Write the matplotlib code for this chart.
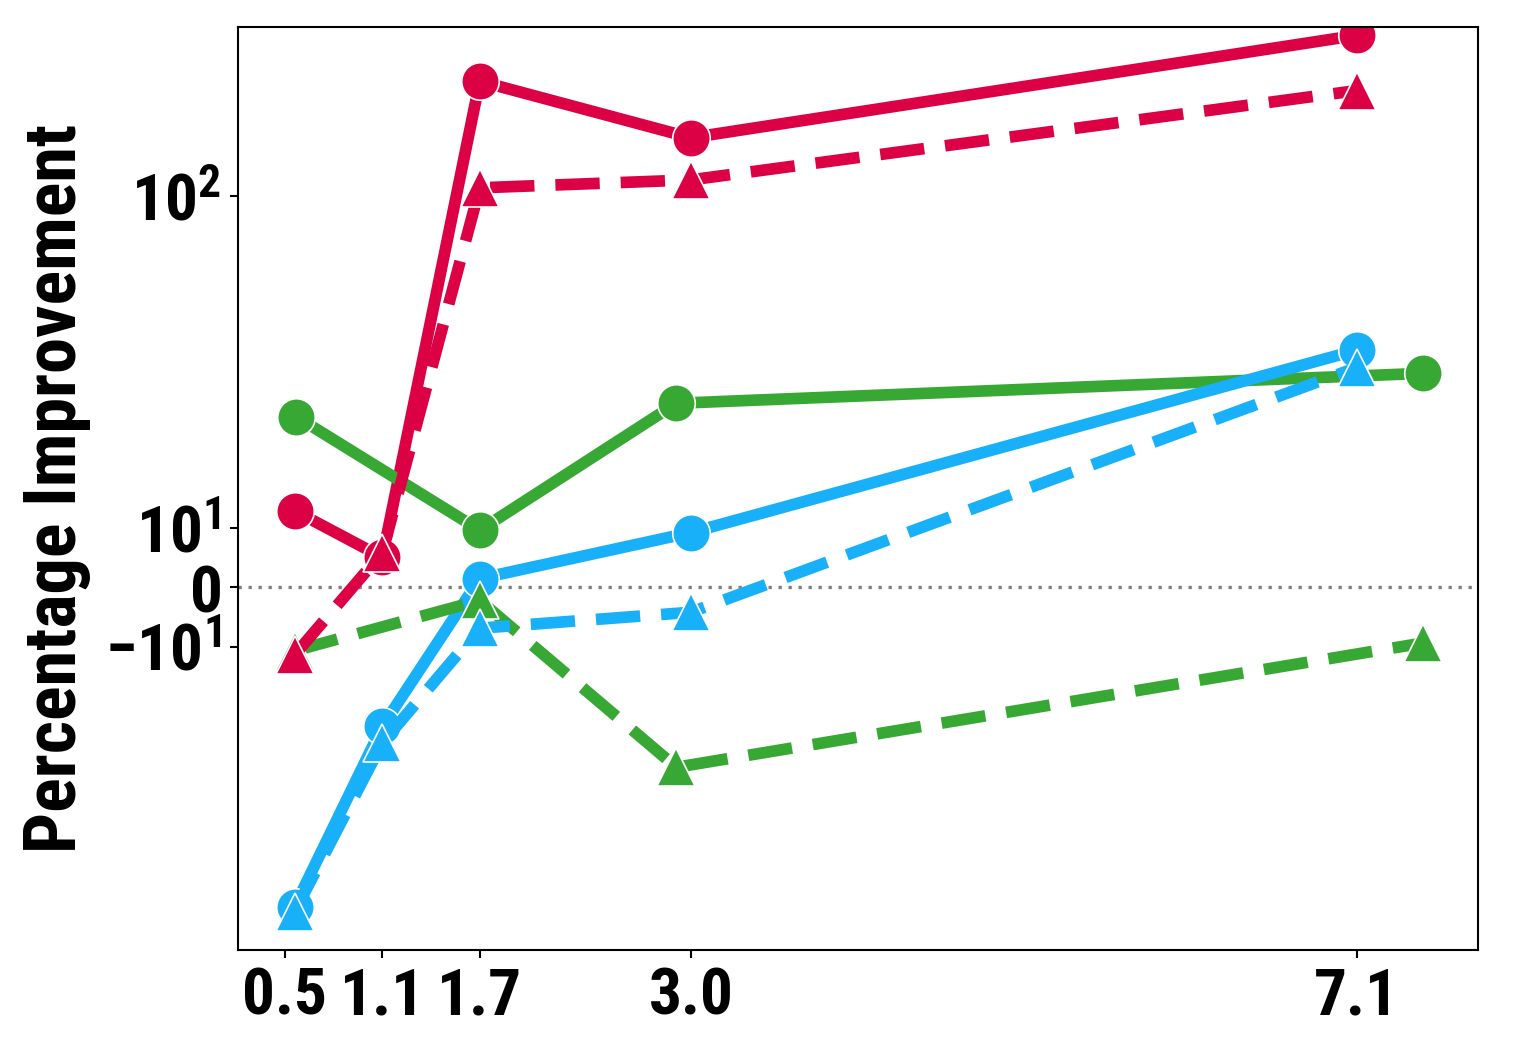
import matplotlib
matplotlib.use('Agg')
import matplotlib.pyplot as plt
from matplotlib import font_manager as fm
from matplotlib.ticker import NullLocator

# 좁은 굵은 글꼴 찾기
installed = set(f.name for f in fm.fontManager.ttflist)
candidates = ['Liberation Sans Narrow', 'Arial Narrow', 'Roboto Condensed', 'PT Sans Narrow',
              'Archivo Narrow', 'IBM Plex Sans Condensed', 'Open Sans Condensed', 'Liberation Sans']
font_name = next(c for c in candidates if c in installed)

plt.rcParams['font.family'] = [font_name, 'DejaVu Sans']
plt.rcParams['font.weight'] = 'bold'
plt.rcParams['mathtext.fontset'] = 'custom'
plt.rcParams['mathtext.rm'] = font_name + ':bold'
plt.rcParams['mathtext.bf'] = font_name + ':bold'
plt.rcParams['mathtext.default'] = 'rm'

# 데이터
x_main = [0.56, 1.1, 1.7, 3.0, 7.1]
x_green = [0.57, 1.7, 2.91, 7.51]
x_green_tri = [0.56, 1.7, 2.91, 7.51]

red_solid = [11.3, 5.1, 222, 150, 305]
red_dashed = [-10.6, 5.9, 106, 112, 208]
green_solid = [21.7, 9.7, 23.8, 29.3]
green_dashed = [-10.3, -2.2, -23.1, -9.4]
blue_solid = [-60.7, -17.4, 1.5, 9.3, 34.4]
blue_dashed = [-62.9, -19.5, -6.9, -4.2, 30.5]

x_ticks = [0.5, 1.1, 1.7, 3.0, 7.1]
x_ticklabels = ['0.5', '1.1', '1.7', '3.0', '7.1']
y_ticks = [-10, 0, 10, 100]
y_ticklabels = [r'$-10^{1}$', r'$0$', r'$10^{1}$', r'$10^{2}$']

RED = '#DC0045'
GREEN = '#38A834'
BLUE = '#18B0F8'

fig = plt.figure(figsize=(15.34, 10.5), dpi=100)
ax = fig.add_axes([0.155, 0.0952, 0.8085, 0.879])

lw = 8.4
ms = 27
style = dict(lw=lw, ms=ms, mec='white', mew=1.2)
dash = (0, (3.8, 1.8))

# 원형 (실선)
ax.plot(x_main, red_solid, '-', marker='o', color=RED, **style)
ax.plot(x_green, green_solid, '-', marker='o', color=GREEN, **style)
ax.plot(x_main, blue_solid, '-', marker='o', color=BLUE, **style)
# 삼각형 (점선)
ax.plot(x_green_tri, green_dashed, ls=dash, marker='^', color=GREEN, **style)
ax.plot(x_main, red_dashed, ls=dash, marker='^', color=RED, **style)
ax.plot(x_main, blue_dashed, ls=dash, marker='^', color=BLUE, **style)

ax.axhline(0, color='grey', lw=2.4, ls=(0, (1, 2)), zorder=0)

ax.set_yscale('symlog', linthresh=10, linscale=0.16)
ax.set_xlim(0.21, 7.846)
ax.set_ylim(-82, 323)

ax.set_xticks(x_ticks)
ax.set_xticklabels(x_ticklabels)
ax.set_yticks(y_ticks)
ax.set_yticklabels(y_ticklabels)
ax.yaxis.set_minor_locator(NullLocator())
ax.tick_params(axis='both', labelsize=47, length=6, width=1.5, pad=6)
for s in ax.spines.values():
    s.set_linewidth(1.5)

ax.set_ylabel('Percentage Improvement', fontsize=52, fontweight='bold', labelpad=10)

fig.savefig('out.png', dpi=100)
